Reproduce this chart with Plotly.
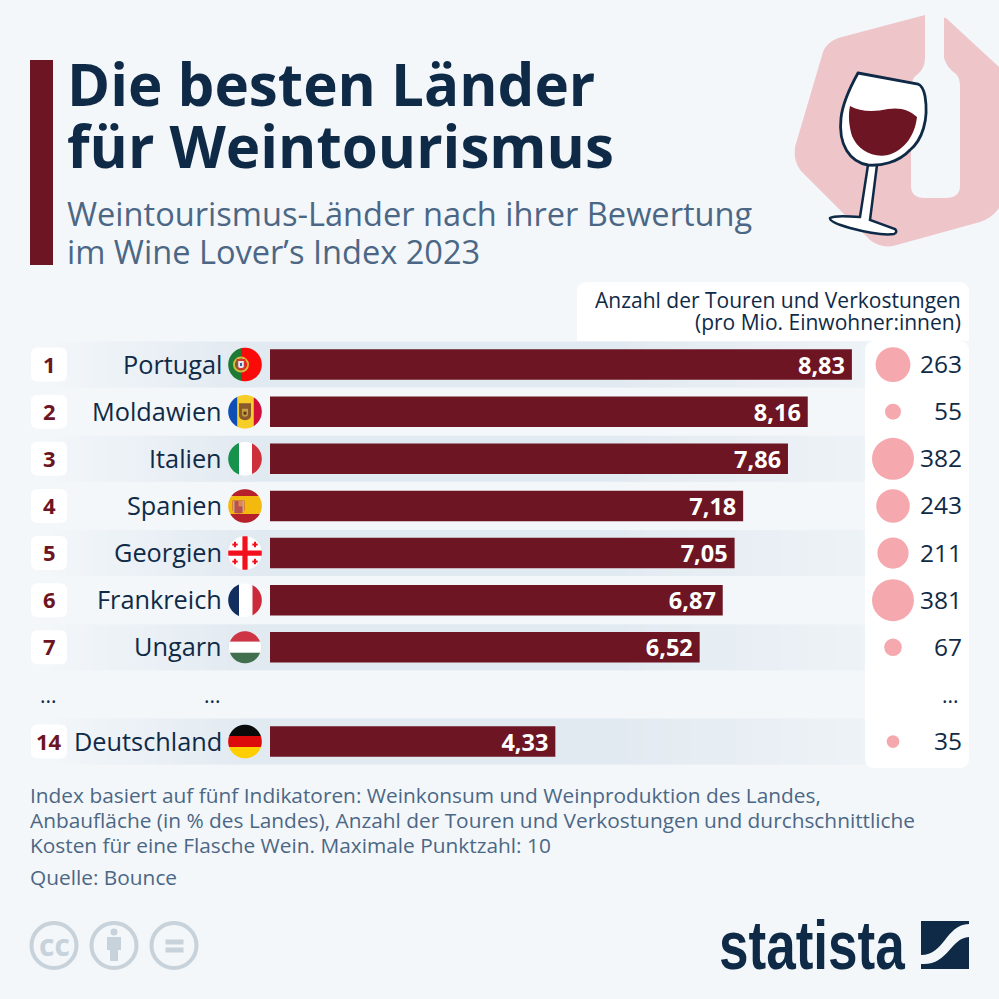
import math
import plotly.graph_objects as go

# data
ranks = ['1', '2', '3', '4', '5', '6', '7', '...', '14']
countries = ['Portugal', 'Moldawien', 'Italien', 'Spanien', 'Georgien', 'Frankreich', 'Ungarn', '...', 'Deutschland']
scores = [8.83, 8.16, 7.86, 7.18, 7.05, 6.87, 6.52, None, 4.33]
tours = [263, 55, 382, 243, 211, 381, 67, 0, 35]
title_lines = ['Die besten Länder', 'für Weintourismus']
subtitle_lines = ['Weintourismus-Länder nach ihrer Bewertung', 'im Wine Lover’s Index 2023']
header_lines = ['Anzahl der Touren und Verkostungen', '(pro Mio. Einwohner:innen)']
note_lines = ['Index basiert auf fünf Indikatoren: Weinkonsum und Weinproduktion des Landes,',
              'Anbaufläche (in % des Landes), Anzahl der Touren und Verkostungen und durchschnittliche',
              'Kosten für eine Flasche Wein. Maximale Punktzahl: 10']

BG = '#f3f7fa'
WINE = '#6d1522'
NAVY = '#0f2a47'
SLATE = '#4c6785'
PINK = '#f5a9ae'
GREY = '#c7d2da'
BAND = (226, 234, 241)
BAND_END = (238, 243, 247)
ROW_TOP = 341
ROW_H = 47.125
FONT = 'Open Sans'

shapes = []
notes = []


def rect(x0, y0, x1, y1, color):
    shapes.append(dict(type='rect', xref='x', yref='y', x0=x0, y0=y0, x1=x1, y1=y1,
                       fillcolor=color, line_width=0, layer='below'))


def path(d, fill=None, line=None, width=0):
    shapes.append(dict(type='path', xref='x', yref='y', path=d, fillcolor=fill or 'rgba(0,0,0,0)',
                       line=dict(color=line or 'rgba(0,0,0,0)', width=width), layer='below'))


def circle(cx, cy, r, fill=None, line=None, width=0):
    shapes.append(dict(type='circle', xref='x', yref='y', x0=cx - r, y0=cy - r, x1=cx + r, y1=cy + r,
                       fillcolor=fill or 'rgba(0,0,0,0)',
                       line=dict(color=line or 'rgba(0,0,0,0)', width=width), layer='below'))


def round_rect(x0, y0, x1, y1, r, color, bottom=True):
    rb = r if bottom else 0
    d = (f'M{x0 + r},{y0} L{x1 - r},{y0} Q{x1},{y0} {x1},{y0 + r} L{x1},{y1 - rb} Q{x1},{y1} {x1 - rb},{y1} '
         f'L{x0 + rb},{y1} Q{x0},{y1} {x0},{y1 - rb} L{x0},{y0 + r} Q{x0},{y0} {x0 + r},{y0} Z')
    path(d, color)


def disc_part(cx, cy, r, x0, x1, y0, y1, color):
    # part of the flag disc inside a box
    pts = []
    for i in range(72):
        a = i * math.pi / 36
        px = min(max(cx + r * math.cos(a), x0), x1)
        py = min(max(cy + r * math.sin(a), y0), y1)
        pts.append(f'{px:.2f},{py:.2f}')
    path('M' + ' L'.join(pts) + ' Z', color)


def vbands(cx, cy, r, cuts, colors):
    edges = [cx - r] + [cx + c for c in cuts] + [cx + r]
    for i, c in enumerate(colors):
        disc_part(cx, cy, r, edges[i], edges[i + 1], cy - r, cy + r, c)


def hbands(cx, cy, r, cuts, colors):
    edges = [cy - r] + [cy + c for c in cuts] + [cy + r]
    for i, c in enumerate(colors):
        disc_part(cx, cy, r, cx - r, cx + r, edges[i], edges[i + 1], c)


def shield(cx, cy, w, h, color):
    path(f'M{cx - w},{cy - h} L{cx + w},{cy - h} L{cx + w},{cy + h * 0.4} '
         f'Q{cx + w},{cy + h} {cx},{cy + h} Q{cx - w},{cy + h} {cx - w},{cy + h * 0.4} Z', color)


def draw_flag(name, cx, cy):
    r = 16.8
    if name == 'Portugal':
        vbands(cx, cy, r, [-4], ['#1f7a35', '#fb0a0a'])
        circle(cx - 4, cy, 7, None, '#d8b93c', 2)
        shield(cx - 4, cy, 4.5, 5.5, '#d8382c')
        shield(cx - 4, cy, 2.8, 3.5, '#e6e6ee')
        rect(cx - 5, cy - 1.5, cx - 3, cy + 1.5, '#3d5fa8')
    elif name == 'Moldawien':
        vbands(cx, cy, r, [-7.5, 8.7], ['#0f4fb5', '#f7cd28', '#d0103a'])
        shield(cx, cy, 6, 8.5, '#8a5a2c')
        shield(cx, cy + 1, 3, 4, '#c8a040')
        rect(cx - 1.5, cy, cx + 1.5, cy + 3, '#5a3a20')
    elif name == 'Italien':
        vbands(cx, cy, r, [-6, 7], ['#16924d', '#ffffff', '#cd2f3b'])
    elif name == 'Spanien':
        hbands(cx, cy, r, [-10, 8], ['#b5202a', '#f4b90f', '#b5202a'])
        shield(cx - 6.5, cy + 1, 6, 6.5, '#b9504a')
        rect(cx - 6.5, cy - 5.5, cx - 1, cy + 0.5, '#d88a50')
        rect(cx - 12, cy - 5, cx - 10.5, cy + 6, '#c9a6a0')
        rect(cx - 2.5, cy - 5, cx - 1, cy + 6, '#c9a6a0')
    elif name == 'Georgien':
        circle(cx, cy, r, '#ffffff')
        disc_part(cx, cy, r, cx - 2.6, cx + 2.6, cy - r, cy + r, '#f2101c')
        disc_part(cx, cy, r, cx - r, cx + r, cy - 2.6, cy + 2.6, '#f2101c')
        for sx in (-10, 10):
            for sy in (-8.5, 8.5):
                rect(cx + sx - 2.7, cy + sy - 1, cx + sx + 2.7, cy + sy + 1, '#f2101c')
                rect(cx + sx - 1, cy + sy - 2.7, cx + sx + 1, cy + sy + 2.7, '#f2101c')
    elif name == 'Frankreich':
        vbands(cx, cy, r, [-6, 7.5], ['#122e5e', '#ffffff', '#ca2a3a'])
    elif name == 'Ungarn':
        hbands(cx, cy, 16, [-5.5, 5.5], ['#cd3544', '#ffffff', '#42704f'])
    elif name == 'Deutschland':
        hbands(cx, cy, r, [-5.5, 5.5], ['#0a0a0a', '#dc0a0a', '#ffce00'])


def row_y(i):
    return ROW_TOP + ROW_H * (i + 0.5)


def label(text, x, y, size, color, anchor='left', bold=False, yref='y', family=FONT, yshift=0):
    notes.append(dict(text=f'<b>{text}</b>' if bold else text, x=x, y=y, xref='x', yref=yref,
                      xanchor=anchor, yanchor='middle', showarrow=False, yshift=yshift,
                      font=dict(family=family, size=size, color=color)))


def mix(a, b, t):
    return 'rgb(%d,%d,%d)' % tuple(a[k] + (b[k] - a[k]) * t for k in range(3))


# hexagon and bottle behind the glass
path('M925,15 L838,38 Q826,43 823,52 L795,147 Q793,161 801,171 L870,240 Q880,248 893,246 L980,222 '
     'Q992,218 999,208 L999,67 L946,18 Z', '#eec6ca')
path('M925,10 L944,10 L944,58 Q947,68 956,74 Q960,78 960,86 L960,186 Q960,198 945,198 L925,198 '
     'Q911,198 911,186 L911,90 Q911,78 918,74 Q925,68 925,58 Z', BG)
# glass
path('M868,165 L877,165 L870,220 L895,229 Q898,232 894,234 Q880,236 850,228 Q829,222 830,218 '
     'Q834,215 860,217 Z', '#ffffff', NAVY, 2.5)
path('M858,73 L918,84 Q923,86 925,96 C929,120 922,140 910,150 C898,163 880,166 868,165 '
     'C850,162 838,145 841,118 Q843,100 858,73 Z', '#ffffff', NAVY, 2.8)
path('M850,106 C860,112 875,112 888,109 C900,107 910,110 917,117 C915,135 905,150 888,155 '
     'C872,158 858,150 852,136 C849,126 848,115 850,106 Z', WINE)

# accent bar and panels
rect(30, 60, 53, 265, WINE)
round_rect(577, 282, 969, 341, 10, '#ffffff', bottom=False)

# rows, every other one fades in from the left and out to the right
bg_rgb = (243, 247, 250)
for i, name in enumerate(countries):
    if i % 2 == 0 and name != '...':
        top = row_y(i) - 23
        bottom = row_y(i) + 23
        for s in range(30):
            rect(45 + s * 7, top, 45 + (s + 1) * 7 + 0.5, bottom, mix(bg_rgb, BAND, s / 29))
        rect(255, top, 600, bottom, mix(BAND, BAND, 0))
        for s in range(30):
            rect(600 + s * 9, top, 600 + (s + 1) * 9 + 0.5, bottom, mix(BAND, BAND_END, s / 29))

round_rect(865, 341, 969, 768, 10, '#ffffff')

for i, name in enumerate(countries):
    y = row_y(i)
    if name == '...':
        label(ranks[i], 48, y + 0.5, 21, NAVY, 'center')
        label(name, 212, y + 0.5, 21, NAVY, 'center')
        label('...', 950, y + 0.5, 21, NAVY, 'center')
        continue
    round_rect(31, y - 17, 67, y + 17, 7, '#ffffff')
    label(ranks[i], 49, y - 1, 22, WINE, 'center', bold=True)
    draw_flag(name, 245, y)
    label(name, 224, name, 25.3, NAVY, 'right', yref='y2', yshift=1)
    label(str(tours[i]), 963.5, name, 24.5, NAVY, 'right', yref='y2', yshift=1)

for i, line in enumerate(title_lines):
    label(line, 65, 83 + i * 62, 58.3, NAVY, bold=True)
for i, line in enumerate(subtitle_lines):
    label(line, 65, 213.5 + i * 38, 32.6, SLATE)
for i, line in enumerate(header_lines):
    label(line, 963, 300 + i * 22, 21, NAVY, 'right')
for i, line in enumerate(note_lines):
    label(line, 28, 795 + i * 25, 20.85, SLATE)
label('Quelle: Bounce', 28, 877, 20.85, SLATE)

# licence icons
for cx in (54, 114, 174):
    circle(cx, 945.5, 22.5, None, GREY, 4)
label('cc', 54, 944, 30, GREY, 'center', bold=True)
circle(114, 932, 3.5, GREY)
path('M107,937 L121,937 L121,950 L118,950 L118,961 L110,961 L110,950 L107,950 Z', GREY)
rect(165.5, 939.5, 183.5, 944.5, GREY)
rect(165.5, 947.5, 183.5, 952.5, GREY)

# statista logo
label('statista', 717, 945, 68, NAVY, bold=True, family='Liberation Sans')
rect(921, 921, 969, 969, NAVY)
path('M921,955 C945,955 945,925 969,924 L969,937 C950,938 948,966 921,964 Z', BG)

fig = go.Figure()

fig.add_trace(go.Bar(x=scores, y=countries, orientation='h', xaxis='x2', yaxis='y2',
                     marker=dict(color=WINE, line_width=0), width=0.645,
                     texttemplate='<b>%{x:.2f}</b>\u2009', textposition='inside', insidetextanchor='end',
                     constraintext='none', cliponaxis=False,
                     textangle=0, insidetextfont=dict(family=FONT, size=23.5, color='#ffffff'),
                     showlegend=False))

fig.add_trace(go.Scatter(x=[0] * len(tours), y=countries, mode='markers', xaxis='x3', yaxis='y2',
                         marker=dict(size=tours, sizemode='area', sizeref=2 * max(tours) / 42 ** 2,
                                     color=PINK, opacity=1, line_width=0),
                         showlegend=False))

hidden = dict(visible=False, showgrid=False, zeroline=False)
fig.update_layout(
    width=999, height=999, margin=dict(l=0, r=0, t=0, b=0),
    paper_bgcolor=BG, plot_bgcolor='rgba(0,0,0,0)',
    separators=',.', showlegend=False,
    font=dict(family=FONT, color=NAVY),
    # pixel canvas for the furniture
    xaxis=dict(hidden, domain=[0, 1], range=[0, 999], anchor='y'),
    yaxis=dict(hidden, domain=[0, 1], range=[999, 0], anchor='x'),
    # bars
    xaxis2=dict(hidden, domain=[270 / 999, 929 / 999], range=[0, 10], anchor='y2'),
    yaxis2=dict(hidden, type='category', categoryorder='array', categoryarray=countries[::-1],
                range=[-0.5, 8.5], domain=[1 - (ROW_TOP + 9 * ROW_H) / 999, 1 - ROW_TOP / 999], anchor='x2'),
    # bubbles
    xaxis3=dict(hidden, domain=[843 / 999, 943 / 999], range=[-1, 1], anchor='y2'),
    shapes=shapes, annotations=notes,
)

# logo lettering is much narrower than any installed bold
squeeze = """
document.body.style.margin = '0';
document.querySelectorAll('text.annotation-text').forEach(function (t) {
  if (t.textContent === 'statista') {
    t.style.transformBox = 'fill-box';
    t.style.transformOrigin = 'left center';
    t.style.transform = 'scaleX(0.78)';
  }
});
"""
fig.write_html('out.html', config={'displayModeBar': False}, post_script=squeeze)
